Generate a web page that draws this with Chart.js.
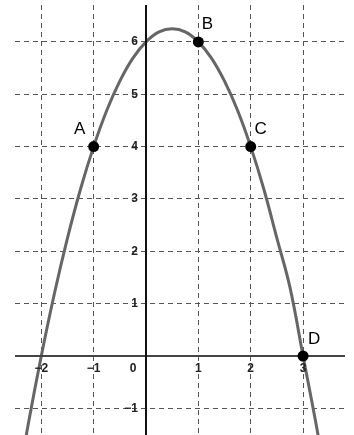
<!DOCTYPE html>
<html>
<head>
<meta charset="UTF-8">
<script src="https://cdn.jsdelivr.net/npm/chart.js"></script>
<style>
    body { margin: 0; background: #fff; }
    #wrap { width: 354px; height: 435px; }
</style>
</head>
<body>
<div id="wrap"><canvas id="graph" width="354" height="435"></canvas></div>
<script>
// curve
const curveX = [-2.5, -2.25, -2, -1.75, -1.5, -1.25, -1, -0.75, -0.5, -0.25, 0, 0.25, 0.5, 0.75, 1, 1.25, 1.5, 1.75, 2, 2.25, 2.5, 2.75, 3, 3.25, 3.5, 3.75];
const curveY = [-2.75, -1.31, 0, 1.19, 2.25, 3.19, 4, 4.69, 5.25, 5.69, 6, 6.19, 6.25, 6.19, 6, 5.69, 5.25, 4.69, 4, 3.19, 2.25, 1.31, 0, -1.31, -2.75, -4.31];

// marked points
const pointNames = ['A', 'B', 'C', 'D'];
const pointX = [-1, 1, 2, 3];
const pointY = [4, 6, 4, 0];

// grid / tick labels
const xTicks = [-2, -1, 0, 1, 2, 3];
const yTicks = [-1, 0, 1, 2, 3, 4, 5, 6];
const xTickLabels = ['\u22122', '\u22121', '0', '1', '2', '3'];
const yTickLabels = ['\u22121', '0', '1', '2', '3', '4', '5', '6'];

const labelOffsets = [[-14, -17], [9, -18], [10, -17], [11, -17]];

const axesAndLabels = {
    id: 'axesAndLabels',
    afterDatasetsDraw(chart) {
        const ctx = chart.ctx;
        const xs = chart.scales.x, ys = chart.scales.y;
        const area = chart.chartArea;
        const x0 = xs.getPixelForValue(0), y0 = ys.getPixelForValue(0);
        ctx.save();
        // axes
        ctx.lineWidth = 2;
        ctx.strokeStyle = '#444';
        ctx.beginPath();
        ctx.moveTo(area.left, y0);
        ctx.lineTo(area.right, y0);
        ctx.stroke();
        ctx.strokeStyle = '#111';
        ctx.beginPath();
        ctx.moveTo(x0, area.top);
        ctx.lineTo(x0, area.bottom);
        ctx.stroke();

        // tick labels
        ctx.fillStyle = '#222';
        ctx.font = 'bold 12px "Liberation Sans", Arial, sans-serif';
        ctx.textBaseline = 'middle';
        ctx.textAlign = 'center';
        xTicks.forEach((v, i) => {
            if (v === 0) {
                ctx.fillText(xTickLabels[i], x0 - 13, y0 + 13);
            } else {
                ctx.fillText(xTickLabels[i], xs.getPixelForValue(v), y0 + 13);
            }
        });
        ctx.textAlign = 'right';
        yTicks.forEach((v, i) => {
            if (v !== 0) ctx.fillText(yTickLabels[i], x0 - 8, ys.getPixelForValue(v));
        });
        ctx.restore();
    },
    afterDraw(chart) {
        const ctx = chart.ctx;
        const xs = chart.scales.x, ys = chart.scales.y;
        ctx.save();
        // marked points on top of axes
        ctx.fillStyle = '#000';
        pointX.forEach((v, i) => {
            ctx.beginPath();
            ctx.arc(xs.getPixelForValue(v), ys.getPixelForValue(pointY[i]), 5.5, 0, Math.PI * 2);
            ctx.fill();
        });
        ctx.font = '17px "Liberation Sans", Arial, sans-serif';
        ctx.textAlign = 'center';
        ctx.textBaseline = 'middle';
        pointNames.forEach((n, i) => {
            ctx.fillText(n, xs.getPixelForValue(pointX[i]) + labelOffsets[i][0],
                ys.getPixelForValue(pointY[i]) + labelOffsets[i][1]);
        });
        ctx.restore();
    }
};

const gridOpts = {
    color: (c) => c.tick && c.tick.value === 0 ? 'rgba(0,0,0,0)' : '#555',
    lineWidth: 1,
    drawTicks: false
};

new Chart(document.getElementById('graph'), {
    type: 'scatter',
    data: {
        datasets: [{
            data: curveX.map((x, i) => ({ x: x, y: curveY[i] })),
            showLine: true,
            borderColor: '#666',
            borderWidth: 3,
            pointRadius: 0,
            tension: 0.4,
            fill: false
        }]
    },
    options: {
        responsive: false,
        animation: false,
        events: [],
        layout: { padding: { left: 15, right: 9, top: 5, bottom: 0 } },
        plugins: { legend: { display: false }, tooltip: { enabled: false } },
        scales: {
            x: {
                type: 'linear',
                min: -2.502,
                max: 3.801,
                grid: gridOpts,
                border: { display: false, dash: [5, 4] },
                ticks: { display: false },
                afterBuildTicks: (s) => { s.ticks = xTicks.map(v => ({ value: v })); },
                afterFit: (s) => { s.height = 0; }
            },
            y: {
                type: 'linear',
                min: -1.509,
                max: 6.705,
                grid: gridOpts,
                border: { display: false, dash: [5, 4] },
                ticks: { display: false },
                afterBuildTicks: (s) => { s.ticks = yTicks.map(v => ({ value: v })); },
                afterFit: (s) => { s.width = 0; }
            }
        }
    },
    plugins: [axesAndLabels]
});
</script>
</body>
</html>
